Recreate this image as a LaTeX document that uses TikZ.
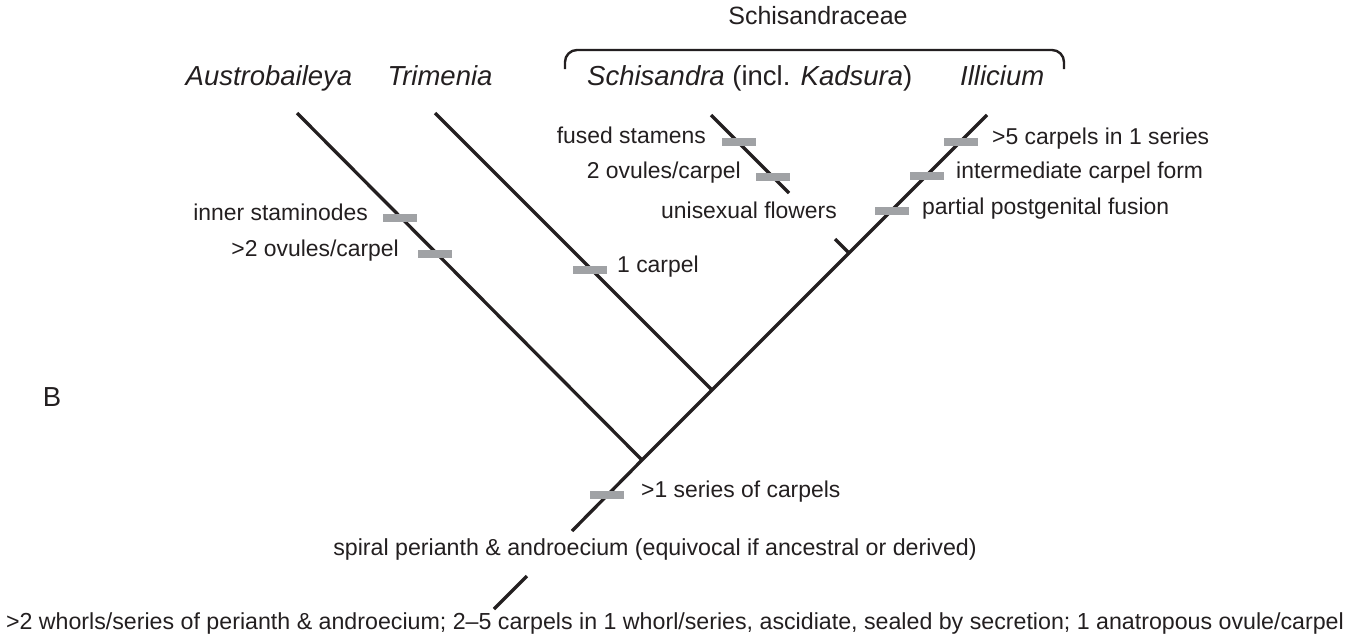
\documentclass[tikz,border=0pt]{standalone}
\usepackage{fontspec}
\setmainfont{Liberation Sans}
\definecolor{ink}{RGB}{35,31,32}
\definecolor{bargray}{RGB}{160,162,165}
\begin{document}
\begin{tikzpicture}[x=1pt,y=-1pt,
  branch/.style={draw=ink, line width=3.3pt},
  bracket/.style={draw=ink, line width=2.4pt, rounded corners=12pt},
  charbar/.style={fill=bargray, draw=none, minimum width=34pt, minimum height=8pt, inner sep=0pt},
  lab/.style={inner sep=0pt, text=ink, font=\fontsize{22.9pt}{27pt}\selectfont},
  biglab/.style={inner sep=0pt, text=ink, font=\fontsize{23.2pt}{27pt}\selectfont},
  taxon/.style={inner sep=0pt, text=ink, font=\fontsize{27.5pt}{32pt}\selectfont\itshape},
  grp/.style={inner sep=0pt, text=ink, font=\fontsize{25pt}{30pt}\selectfont},
  panel/.style={inner sep=0pt, text=ink, font=\fontsize{27.5pt}{32pt}\selectfont}]
\useasboundingbox (0,0) rectangle (1350,641);

% tree coordinates
\coordinate (root) at (494,609);
\coordinate (rootlo) at (527,576);
\coordinate (roothi) at (572,531);
\coordinate (nA) at (642,460);
\coordinate (nT) at (712,390);
\coordinate (nS) at (849,253);
\coordinate (tipA) at (297,113);
\coordinate (tipT) at (435,113);
\coordinate (tipS) at (711,115);
\coordinate (tipI) at (987,115);
\coordinate (sHi) at (789,193);
\coordinate (sLo) at (835,239);

\draw[branch] (root) -- (rootlo);
\draw[branch] (roothi) -- (nA) -- (nT) -- (nS) -- (tipI);
\draw[branch] (tipA) -- (nA);
\draw[branch] (tipT) -- (nT);
\draw[branch] (tipS) -- (sHi);
\draw[branch] (sLo) -- (nS);

% character bars
\node[charbar] (b1) at (400,218) {};
\node[charbar] (b2) at (435,254) {};
\node[charbar] (b3) at (590,270) {};
\node[charbar] (b4) at (739,142) {};
\node[charbar] (b5) at (773,177) {};
\node[charbar] (b6) at (961,142) {};
\node[charbar] (b7) at (927,176) {};
\node[charbar] (b8) at (892,211) {};
\node[charbar] (b9) at (607,495) {};

% character labels
\node[lab, anchor=mid east] (l1) at (368,218) {inner staminodes};
\node[lab, anchor=mid east] (l2) at (399,254) {>2 ovules/carpel};
\node[lab, anchor=mid west] (l3) at (617,270) {1 carpel};
\node[lab, anchor=mid east] (l4) at (706,141) {fused stamens};
\node[lab, anchor=mid east] (l5) at (741,176) {2 ovules/carpel};
\node[lab, anchor=mid west] (l6) at (661,216) {unisexual flowers};
\node[lab, anchor=mid west] (l7) at (992,142) {>5 carpels in 1 series};
\node[lab, anchor=mid west] (l8) at (956,176) {intermediate carpel form};
\node[lab, anchor=mid west] (l9) at (922,212) {partial postgenital fusion};
\node[lab, anchor=mid west] (l10) at (641,495) {>1 series of carpels};
\node[biglab, anchor=mid] (l11) at (655,553) {spiral perianth \& androecium (equivocal if ancestral or derived)};
\node[biglab, anchor=mid] (l12) at (675,627) {>2 whorls/series of perianth \& androecium; 2–5 carpels in 1 whorl/series, ascidiate, sealed by secretion; 1 anatropous ovule/carpel};

% taxa
\node[taxon, anchor=base] (tA) at (269,85) {Austrobaileya};
\node[taxon, anchor=base] (tT) at (440,85) {Trimenia};
\node[taxon, anchor=base west] (tS) at (587,85) {Schisandra\/ {\upshape(incl.} Kadsura\/{\upshape)}};
\node[taxon, anchor=base west] (tI) at (960,85) {Illicium};

% Schisandraceae bracket
\coordinate (brL) at (565,69);
\coordinate (brR) at (1064,69);
\draw[bracket] (brL) -- (565,50) -- (1064,50) -- (brR);
\node[grp, anchor=mid] (gS) at (818,22) {Schisandraceae};

\node[panel, anchor=base] (B) at (52,406) {B};
\end{tikzpicture}
\end{document}
